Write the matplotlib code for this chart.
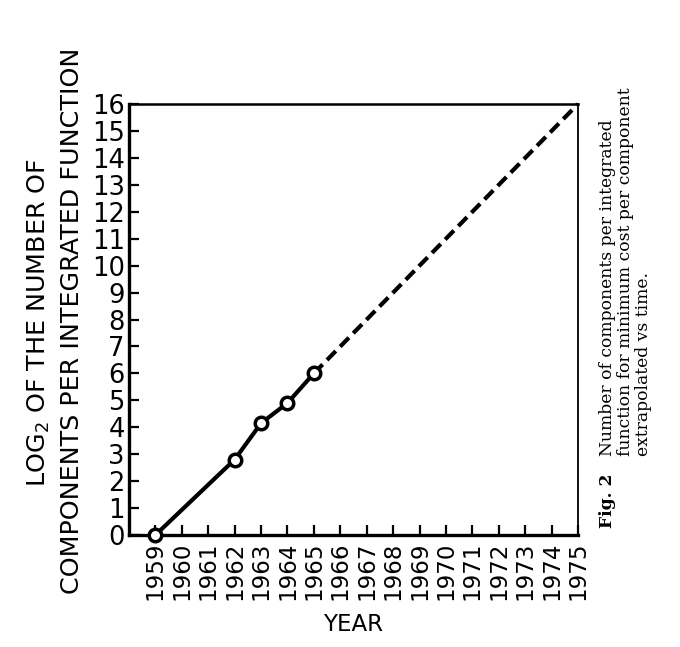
import matplotlib
matplotlib.use("Agg")
import matplotlib.pyplot as plt

# data
years_measured = [1959, 1962, 1963, 1964, 1965]
log2_measured = [0.0, 2.8, 4.15, 4.9, 6.0]
years_extrap = [1965, 1975]
log2_extrap = [6.0, 16.0]
x_ticks = list(range(1959, 1976))
y_ticks = list(range(0, 17))

fig = plt.figure(figsize=(6.8, 6.47), dpi=100)
ax = fig.add_axes([129/680, 112/647, (578-129)/680, (535-104)/647])

ax.plot(years_measured, log2_measured, color="black", lw=3.0,
        marker="o", ms=9, mfc="white", mec="black", mew=2.5, zorder=3,
        clip_on=False)
ax.plot(years_extrap, log2_extrap, color="black", lw=3.0,
        dashes=(3.0, 1.5), zorder=2, clip_on=False)

ax.set_xlim(1958, 1975)
ax.set_ylim(0, 16)
ax.set_xticks(x_ticks)
ax.set_yticks(y_ticks)
ax.set_xticklabels([str(y) for y in x_ticks], rotation=90, fontsize=16.5,
                   family="DejaVu Sans")
ax.set_yticklabels([str(v) for v in y_ticks], fontsize=18.5, family="DejaVu Sans")
ax.tick_params(axis="x", direction="in", length=7, width=1.6, pad=5)
ax.tick_params(axis="y", direction="in", length=7, width=1.6, pad=3)

ax.spines["left"].set_linewidth(2.4)
ax.spines["bottom"].set_linewidth(2.4)
ax.spines["top"].set_linewidth(1.8)
ax.spines["right"].set_linewidth(1.3)

ax.set_xlabel("YEAR", fontsize=16.5, labelpad=9)

fig.text(39/680, 1 - 322/647, r"LOG$_2$ OF THE NUMBER OF", rotation=90,
         ha="center", va="center", fontsize=18.3)
fig.text(72/680, 1 - 321/647, "COMPONENTS PER INTEGRATED FUNCTION", rotation=90,
         ha="center", va="center", fontsize=18.3)

cap_kw = dict(rotation=90, ha="center", va="bottom", family="DejaVu Serif",
              fontsize=12.3)
fig.text(607/680, 1 - 528/647, "Fig. 2", fontweight="bold", **cap_kw)
fig.text(607/680, 1 - 456/647, "Number of components per integrated", **cap_kw)
fig.text(625/680, 1 - 456/647, "function for minimum cost per component", **cap_kw)
fig.text(643/680, 1 - 456/647, "extrapolated vs time.", **cap_kw)

fig.savefig("out.png", dpi=100)
